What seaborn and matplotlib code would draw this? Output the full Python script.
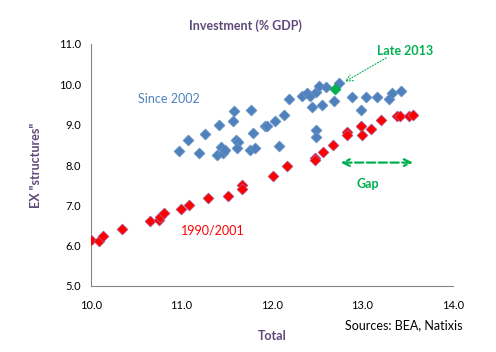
import pandas as pd
import numpy as np

import seaborn as sns
import matplotlib.pyplot as plt


# values
red_x = [10.00, 10.09, 10.14, 10.35, 10.65, 10.75, 10.77, 10.81, 11.00, 11.09,
         11.29, 11.52, 11.67, 11.67, 12.01, 12.17, 12.48, 12.48, 12.57, 12.68,
         12.83, 12.83, 12.98, 13.00, 13.10, 13.21, 13.38, 13.42, 13.52, 13.56]
red_y = [6.14, 6.11, 6.23, 6.41, 6.62, 6.64, 6.72, 6.80, 6.92, 7.00,
         7.19, 7.24, 7.51, 7.40, 7.73, 7.98, 8.17, 8.13, 8.33, 8.50,
         8.81, 8.75, 8.96, 8.75, 8.89, 9.12, 9.22, 9.22, 9.22, 9.25]

blue_x = [10.98, 11.07, 11.20, 11.26, 11.42, 11.39, 11.44, 11.46, 11.48, 11.57,
          11.58, 11.77, 11.60, 11.63, 11.62, 11.76, 11.81, 11.79, 11.93, 11.95,
          12.04, 12.08, 12.14, 12.19, 12.33, 12.39, 12.42, 12.44, 12.49, 12.52,
          12.56, 12.60, 12.69, 12.74, 12.49, 12.49, 12.89, 12.99, 13.04, 13.16,
          13.29, 13.33, 13.43]
blue_y = [8.34, 8.63, 8.30, 8.77, 8.99, 8.25, 8.45, 8.30, 8.36, 9.10,
          9.35, 9.37, 8.61, 8.56, 8.41, 8.36, 8.42, 8.79, 8.96, 8.96,
          9.10, 8.48, 9.23, 9.64, 9.72, 9.78, 9.70, 9.44, 9.82, 9.95,
          9.49, 9.93, 9.59, 10.04, 8.88, 8.69, 9.68, 9.36, 9.68, 9.68,
          9.64, 9.78, 9.84]

late_x = [12.70]
late_y = [9.88]

xticks = [10.0, 11.0, 12.0, 13.0, 14.0]
yticks = [5.0, 6.0, 7.0, 8.0, 9.0, 10.0, 11.0]

sns.set_style('white')
plt.rcParams['font.family'] = ['Lato', 'DejaVu Sans']

blue = '#4F81BD'
red = '#FF0000'
green = '#00B050'
purple = '#5F497A'
grey = '#868686'

fig = plt.figure(figsize=(4.96, 3.52), dpi=100)
ax = fig.add_axes([0.183, 0.1875, 0.730, 0.6875])

sns.scatterplot(x=blue_x, y=blue_y, marker='D', s=32, color=blue,
                edgecolor='#6F97C8', linewidth=0.4, ax=ax, zorder=3)
sns.scatterplot(x=red_x, y=red_y, marker='D', s=32, color=red,
                edgecolor='#8A7FC8', linewidth=0.4, ax=ax, zorder=3)
sns.scatterplot(x=late_x, y=late_y, marker='D', s=32, color=green,
                edgecolor=green, linewidth=0.4, ax=ax, zorder=4)

ax.set_xlim(10, 14)
ax.set_ylim(5, 11)
ax.set_xticks(xticks)
ax.set_yticks(yticks)
ax.set_xticklabels([f'{v:.1f}' for v in xticks])
ax.set_yticklabels([f'{v:.1f}' for v in yticks])
ax.tick_params(axis='both', labelsize=8, colors=grey, labelcolor='black',
               length=4, width=0.8, direction='out', pad=3)
ax.tick_params(axis='x', pad=6)
for side in ['top', 'right']:
    ax.spines[side].set_visible(False)
for side in ['left', 'bottom']:
    ax.spines[side].set_color(grey)
    ax.spines[side].set_linewidth(0.8)
ax.grid(False)

ax.set_xlabel('Total', fontsize=9, fontweight='bold', color=purple, labelpad=14)
ax.set_ylabel('EX "structures"', fontsize=9, fontweight='bold', color=purple, labelpad=12)
fig.text(0.495, 0.926, 'Investment (% GDP)', ha='center', va='center',
         fontsize=9, fontweight='bold', color=purple)
fig.text(0.933, 0.077, 'Sources: BEA, Natixis', ha='right', va='center',
         fontsize=9, color='black')

# annotations
ax.text(10.86, 9.64, 'Since 2002', ha='center', va='center', fontsize=9, color=blue)
ax.text(11.35, 6.37, '1990/2001', ha='center', va='center', fontsize=9, color=red)
ax.text(13.47, 10.82, 'Late 2013', ha='center', va='center', fontsize=9,
        fontweight='bold', color=green)
ax.annotate('', xy=(12.78, 10.03), xytext=(13.29, 10.69),
            arrowprops=dict(arrowstyle='->', color=green, lw=0.8, ls=':',
                            mutation_scale=12))
ax.annotate('', xy=(12.73, 8.06), xytext=(13.59, 8.06),
            arrowprops=dict(arrowstyle='<->', color=green, lw=1.6, ls='--',
                            mutation_scale=12))
ax.text(13.06, 7.53, 'Gap', ha='center', va='center', fontsize=9,
        fontweight='bold', color=green)

fig.savefig('out.png', dpi=100)
